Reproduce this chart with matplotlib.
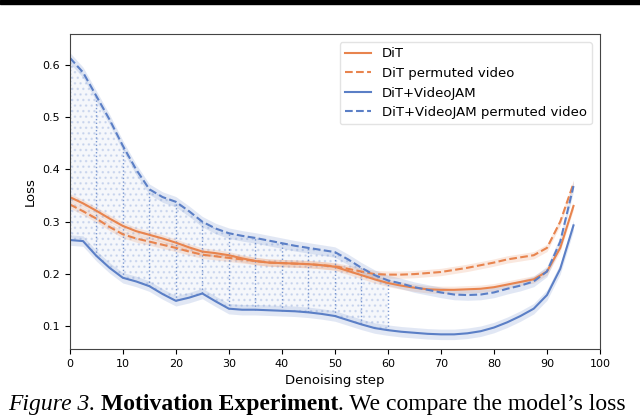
import numpy as np
import matplotlib
matplotlib.use("Agg")
import matplotlib.pyplot as plt
from matplotlib.patches import Rectangle

# denoising steps (every 2.5 steps, 0..95)
steps = np.arange(0, 95.1, 2.5)

# loss curves
dit = [0.347, 0.335, 0.321, 0.306, 0.292, 0.282, 0.275, 0.268, 0.260, 0.251,
       0.243, 0.240, 0.236, 0.230, 0.225, 0.222, 0.221, 0.220, 0.219, 0.217,
       0.214, 0.206, 0.198, 0.190, 0.183, 0.178, 0.174, 0.171, 0.170, 0.170,
       0.171, 0.172, 0.175, 0.180, 0.185, 0.190, 0.205, 0.250, 0.330]
dit_perm = [0.333, 0.320, 0.306, 0.290, 0.276, 0.268, 0.262, 0.256, 0.250, 0.243,
            0.237, 0.234, 0.231, 0.228, 0.225, 0.222, 0.221, 0.220, 0.219, 0.217,
            0.215, 0.210, 0.205, 0.200, 0.199, 0.199, 0.200, 0.202, 0.204, 0.208,
            0.212, 0.217, 0.222, 0.228, 0.232, 0.236, 0.250, 0.300, 0.373]
vj = [0.265, 0.263, 0.235, 0.212, 0.193, 0.186, 0.177, 0.162, 0.149, 0.155,
      0.163, 0.148, 0.134, 0.132, 0.132, 0.131, 0.130, 0.129, 0.127, 0.124,
      0.120, 0.112, 0.104, 0.097, 0.093, 0.090, 0.088, 0.086, 0.085, 0.085,
      0.087, 0.091, 0.098, 0.108, 0.120, 0.134, 0.160, 0.210, 0.293]
vj_perm = [0.613, 0.585, 0.540, 0.495, 0.445, 0.400, 0.362, 0.347, 0.338, 0.320,
           0.300, 0.287, 0.278, 0.273, 0.269, 0.264, 0.259, 0.254, 0.250, 0.246,
           0.242, 0.228, 0.212, 0.198, 0.188, 0.182, 0.175, 0.170, 0.165, 0.161,
           0.160, 0.161, 0.165, 0.172, 0.178, 0.186, 0.205, 0.262, 0.368]

# half width of the shaded bands
band_dit = 0.007
band_vj = 0.010

# steps where samples were drawn (dotted verticals)
sample_steps = [0, 5, 10, 15, 20, 25, 30, 35, 40, 45, 50, 55, 60]

caption = [('Figure 3. ', dict(style='italic')),
           ('Motivation Experiment', dict(weight='bold')),
           ('. We compare the model\u2019s loss', dict())]

orange = '#E8844E'
blue = '#5B7FC6'

fig = plt.figure(figsize=(6.4, 4.16), dpi=100)
ax = fig.add_axes([0.109, 0.161, 0.8285, 0.757])

dit = np.array(dit)
dit_perm = np.array(dit_perm)
vj = np.array(vj)
vj_perm = np.array(vj_perm)

# cloud of permuted samples between the two VideoJAM curves
n = len([s for s in steps if s <= 60])
ax.fill_between(steps[:n], vj[:n], vj_perm[:n], facecolor=blue, alpha=0.06, linewidth=0)
ax.fill_between(steps[:n], vj[:n], vj_perm[:n], facecolor='none', edgecolor='#a9bce3',
                hatch='...', linewidth=0, alpha=0.45)
idx = [list(steps).index(s) for s in sample_steps]
ax.vlines(sample_steps, vj[idx], vj_perm[idx], colors=blue, linestyles=':',
          linewidth=1.0, alpha=0.8)

# shaded bands
for y, c, b in [(dit, orange, band_dit), (dit_perm, orange, band_dit),
                (vj, blue, band_vj), (vj_perm, blue, band_vj)]:
    ax.fill_between(steps, y - b, y + b, color=c, alpha=0.18, linewidth=0)

ax.plot(steps, dit, color=orange, lw=1.5, label='DiT')
ax.plot(steps, dit_perm, color=orange, lw=1.5, ls='--', label='DiT permuted video')
ax.plot(steps, vj, color=blue, lw=1.5, label='DiT+VideoJAM')
ax.plot(steps, vj_perm, color=blue, lw=1.5, ls='--', label='DiT+VideoJAM permuted video')

ax.set_xlim(0, 100)
ax.set_ylim(0.057, 0.658)
ax.set_xticks(range(0, 101, 10))
ax.set_yticks([0.1, 0.2, 0.3, 0.4, 0.5, 0.6])
ax.tick_params(labelsize=8)
ax.set_xlabel('Denoising step', fontsize=9.5)
ax.set_ylabel('Loss', fontsize=9.5)
for s in ax.spines.values():
    s.set_color('#444444')

leg = ax.legend(loc='upper right', fontsize=9.5, frameon=True, borderaxespad=0.6,
                handlelength=2.0, labelspacing=0.5)
leg.get_frame().set_edgecolor('#dddddd')

# top rule of the page and caption below the chart
fig.patches.append(Rectangle((0, 0.991), 1, 0.009, transform=fig.transFigure,
                             color='black', zorder=10))
renderer = fig.canvas.get_renderer()
x0 = 8
for txt, kw in caption:
    t = fig.text(x0 / 640, 6 / 416, txt, fontsize=17, family='Liberation Serif',
                 va='baseline', **kw)
    x0 = t.get_window_extent(renderer).x1

fig.savefig('out.png', dpi=100)
